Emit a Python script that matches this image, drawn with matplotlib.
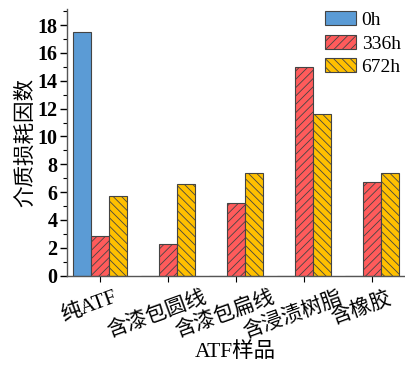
import numpy as np
import matplotlib.pyplot as plt
import matplotlib.transforms as mtransforms
from matplotlib.ticker import MultipleLocator

plt.rcParams['font.family'] = ['Liberation Serif', 'Noto Sans CJK SC']
plt.rcParams['hatch.linewidth'] = 0.6

# data
samples = ["纯ATF", "含漆包圆线", "含漆包扁线", "含浸渍树脂", "含橡胶"]
series = ["0h", "336h", "672h"]
h0 = [17.5, 0, 0, 0, 0]
h336 = [2.85, 2.3, 5.2, 15.0, 6.75]
h672 = [5.7, 6.6, 7.4, 11.6, 7.4]

colors = ["#5b9bd5", "#ff5b5b", "#ffc000"]
hatches = ["", "////", "\\\\\\\\"]

fig = plt.figure(figsize=(4.06, 3.66), dpi=100)
ax = fig.add_axes([0.165, 0.247, 0.830, 0.728])

x = np.arange(len(samples))
w = 0.265
for i, (vals, lab) in enumerate(zip([h0, h336, h672], series)):
    ax.bar(x + (i - 1) * w, vals, width=w, color=colors[i], edgecolor="#444444",
           linewidth=0.8, hatch=hatches[i], label=lab)

ax.set_xlim(-0.485, 4.47)
ax.set_ylim(0, 19.15)
ax.yaxis.set_major_locator(MultipleLocator(2))
ax.yaxis.set_minor_locator(MultipleLocator(1))
ax.spines['top'].set_visible(False)
ax.spines['right'].set_visible(False)
for s in ['left', 'bottom']:
    ax.spines[s].set_color("#555555")
    ax.spines[s].set_linewidth(1.0)
ax.tick_params(axis='y', which='major', length=5, width=1, labelsize=14.5, pad=2)
ax.tick_params(axis='y', which='minor', length=3, width=0.8)
ax.tick_params(axis='x', length=4, width=0.8, labelsize=15, pad=5)
for t in ax.get_yticklabels():
    t.set_fontweight('bold')

ax.set_xticks(x)
ax.set_xticklabels(samples, rotation=20, ha='center')
offset = mtransforms.ScaledTranslation(-11 / 100, 0, fig.dpi_scale_trans)
for t in ax.get_xticklabels():
    t.set_transform(t.get_transform() + offset)

ax.set_ylabel("介质损耗因数", fontsize=15.5, labelpad=1)
ax.set_xlabel("ATF样品", fontsize=15.5, labelpad=0)

ax.legend(loc='upper right', bbox_to_anchor=(1.025, 1.035), frameon=False,
          prop={'size': 14}, handlelength=1.6,
          handleheight=0.7, labelspacing=0.3, handletextpad=0.3,
          borderaxespad=0.2)

fig.savefig("out.png", dpi=100)
